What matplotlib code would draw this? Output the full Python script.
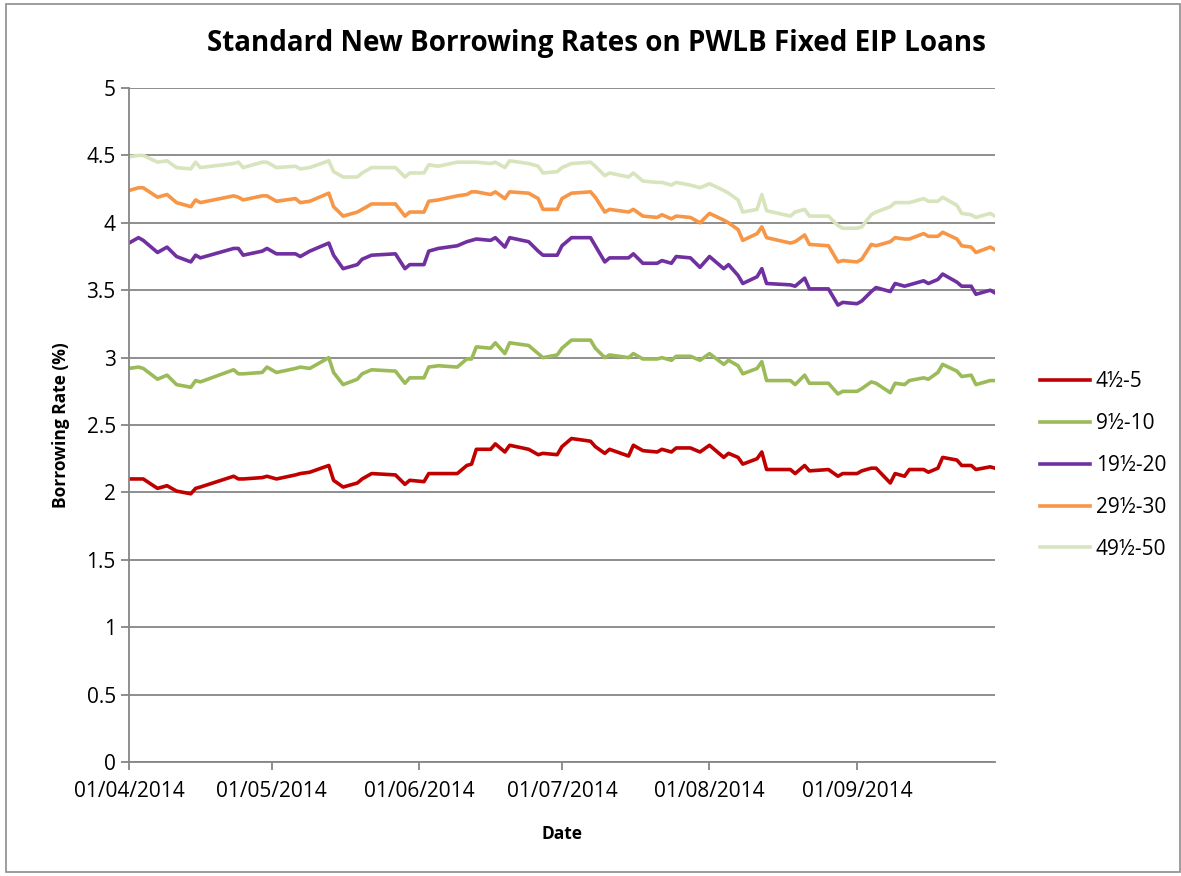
import matplotlib
matplotlib.use("Agg")
import matplotlib.pyplot as plt
import matplotlib.dates as mdates
import pandas as pd
from matplotlib.patches import Rectangle

# dates (dd/mm/2014) and rates
dates = ["01/04", "03/04", "04/04", "07/04", "09/04", "11/04", "14/04", "15/04", "16/04",
         "23/04", "24/04", "25/04", "29/04", "30/04", "02/05", "06/05", "07/05", "09/05",
         "13/05", "14/05", "16/05", "19/05", "20/05", "22/05", "27/05", "29/05", "30/05",
         "02/06", "03/06", "05/06", "09/06", "11/06", "12/06", "13/06", "16/06", "17/06",
         "19/06", "20/06", "24/06", "26/06", "27/06", "30/06", "01/07", "03/07", "07/07",
         "08/07", "10/07", "11/07", "15/07", "16/07", "18/07", "21/07", "22/07", "24/07",
         "25/07", "28/07", "30/07", "01/08", "04/08", "05/08", "07/08", "08/08", "11/08",
         "12/08", "13/08", "18/08", "19/08", "21/08", "22/08", "26/08", "28/08", "29/08",
         "01/09", "02/09", "04/09", "05/09", "08/09", "09/09", "11/09", "12/09", "15/09",
         "16/09", "18/09", "19/09", "22/09", "23/09", "25/09", "26/09", "29/09", "30/09"]

rate_5 = [2.10, 2.10, 2.10, 2.03, 2.05, 2.01, 1.99, 2.03, 2.04,
          2.12, 2.10, 2.10, 2.11, 2.12, 2.10, 2.13, 2.14, 2.15,
          2.20, 2.09, 2.04, 2.07, 2.10, 2.14, 2.13, 2.06, 2.09,
          2.08, 2.14, 2.14, 2.14, 2.20, 2.21, 2.32, 2.32, 2.36,
          2.30, 2.35, 2.32, 2.28, 2.29, 2.28, 2.34, 2.40, 2.38,
          2.34, 2.29, 2.32, 2.27, 2.35, 2.31, 2.30, 2.32, 2.30,
          2.33, 2.33, 2.30, 2.35, 2.26, 2.29, 2.26, 2.21, 2.25,
          2.30, 2.17, 2.17, 2.14, 2.20, 2.16, 2.17, 2.12, 2.14,
          2.14, 2.16, 2.18, 2.18, 2.07, 2.14, 2.12, 2.17, 2.17,
          2.15, 2.18, 2.26, 2.24, 2.20, 2.20, 2.17, 2.19, 2.18]

rate_10 = [2.92, 2.93, 2.92, 2.84, 2.87, 2.80, 2.78, 2.83, 2.82,
           2.91, 2.88, 2.88, 2.89, 2.93, 2.89, 2.92, 2.93, 2.92,
           3.00, 2.89, 2.80, 2.84, 2.88, 2.91, 2.90, 2.81, 2.85,
           2.85, 2.93, 2.94, 2.93, 2.99, 2.99, 3.08, 3.07, 3.11,
           3.03, 3.11, 3.09, 3.03, 3.00, 3.02, 3.07, 3.13, 3.13,
           3.07, 3.00, 3.02, 3.00, 3.03, 2.99, 2.99, 3.00, 2.98,
           3.01, 3.01, 2.98, 3.03, 2.95, 2.98, 2.94, 2.88, 2.92,
           2.97, 2.83, 2.83, 2.80, 2.87, 2.81, 2.81, 2.73, 2.75,
           2.75, 2.77, 2.82, 2.81, 2.74, 2.81, 2.80, 2.83, 2.85,
           2.84, 2.89, 2.95, 2.90, 2.86, 2.87, 2.80, 2.83, 2.83]

rate_20 = [3.85, 3.89, 3.87, 3.78, 3.82, 3.75, 3.71, 3.76, 3.74,
           3.81, 3.81, 3.76, 3.79, 3.81, 3.77, 3.77, 3.75, 3.79,
           3.85, 3.76, 3.66, 3.69, 3.73, 3.76, 3.77, 3.66, 3.69,
           3.69, 3.79, 3.81, 3.83, 3.86, 3.87, 3.88, 3.87, 3.89,
           3.82, 3.89, 3.86, 3.79, 3.76, 3.76, 3.83, 3.89, 3.89,
           3.83, 3.71, 3.74, 3.74, 3.77, 3.70, 3.70, 3.72, 3.70,
           3.75, 3.74, 3.67, 3.75, 3.66, 3.69, 3.61, 3.55, 3.60,
           3.66, 3.55, 3.54, 3.53, 3.59, 3.51, 3.51, 3.39, 3.41,
           3.40, 3.42, 3.49, 3.52, 3.49, 3.55, 3.53, 3.54, 3.57,
           3.55, 3.58, 3.62, 3.56, 3.53, 3.53, 3.47, 3.50, 3.48]

rate_30 = [4.24, 4.26, 4.26, 4.19, 4.21, 4.15, 4.12, 4.17, 4.15,
           4.20, 4.19, 4.17, 4.20, 4.20, 4.16, 4.18, 4.15, 4.16,
           4.22, 4.12, 4.05, 4.08, 4.10, 4.14, 4.14, 4.05, 4.08,
           4.08, 4.16, 4.17, 4.20, 4.21, 4.23, 4.23, 4.21, 4.23,
           4.18, 4.23, 4.22, 4.18, 4.10, 4.10, 4.18, 4.22, 4.23,
           4.19, 4.08, 4.10, 4.08, 4.10, 4.05, 4.04, 4.06, 4.03,
           4.05, 4.04, 4.00, 4.07, 4.02, 4.00, 3.95, 3.87, 3.92,
           3.97, 3.89, 3.85, 3.86, 3.91, 3.84, 3.83, 3.71, 3.72,
           3.71, 3.73, 3.84, 3.83, 3.86, 3.89, 3.88, 3.88, 3.92,
           3.90, 3.90, 3.93, 3.88, 3.83, 3.82, 3.78, 3.82, 3.80]

rate_50 = [4.49, 4.50, 4.50, 4.45, 4.46, 4.41, 4.40, 4.45, 4.41,
           4.44, 4.45, 4.41, 4.45, 4.45, 4.41, 4.42, 4.40, 4.41,
           4.46, 4.38, 4.34, 4.34, 4.37, 4.41, 4.41, 4.34, 4.37,
           4.37, 4.43, 4.42, 4.45, 4.45, 4.45, 4.45, 4.44, 4.45,
           4.41, 4.46, 4.44, 4.42, 4.37, 4.38, 4.41, 4.44, 4.45,
           4.42, 4.35, 4.37, 4.34, 4.37, 4.31, 4.30, 4.30, 4.28,
           4.30, 4.28, 4.26, 4.29, 4.24, 4.22, 4.17, 4.08, 4.10,
           4.21, 4.09, 4.05, 4.08, 4.10, 4.05, 4.05, 3.98, 3.96,
           3.96, 3.97, 4.06, 4.08, 4.12, 4.15, 4.15, 4.15, 4.18,
           4.16, 4.16, 4.19, 4.13, 4.07, 4.06, 4.04, 4.07, 4.05]

series_names = ["4½-5", "9½-10", "19½-20", "29½-30", "49½-50"]
colors = ["#C00000", "#9BBB59", "#7030A0", "#F79646", "#D7E4BD"]

x = pd.to_datetime([d + "/2014" for d in dates], format="%d/%m/%Y")

plt.rcParams["font.family"] = ["Open Sans", "DejaVu Sans"]

fig = plt.figure(figsize=(11.81, 8.76), dpi=100)
fig.patches.append(Rectangle((0.005, 0.004), 0.994, 0.992, transform=fig.transFigure,
                             fill=False, edgecolor="#8c8c8c", linewidth=1.2))
ax = fig.add_axes([0.1092, 0.1301, 0.7333, 0.7694])

for vals, name, c in zip([rate_5, rate_10, rate_20, rate_30, rate_50], series_names, colors):
    ax.plot(x, vals, color=c, linewidth=2.6, label=name)

ax.set_ylim(0, 5)
ax.set_yticks([0, 0.5, 1, 1.5, 2, 2.5, 3, 3.5, 4, 4.5, 5])
ax.set_yticklabels(["0", "0.5", "1", "1.5", "2", "2.5", "3", "3.5", "4", "4.5", "5"])
ax.set_xlim(pd.Timestamp("2014-04-01"), pd.Timestamp("2014-09-30"))
ax.xaxis.set_major_locator(mdates.MonthLocator())
ax.xaxis.set_major_formatter(mdates.DateFormatter("%d/%m/%Y"))
ax.grid(axis="y", color="#868686", linewidth=1.3)
ax.set_axisbelow(True)
for s in ["top", "right"]:
    ax.spines[s].set_visible(False)
for s in ["left", "bottom"]:
    ax.spines[s].set_color("#868686")
    ax.spines[s].set_linewidth(1.3)
ax.tick_params(axis="both", colors="#868686", labelcolor="black", labelsize=15,
               length=6, width=1.3)
ax.tick_params(axis="x", pad=8)

ax.set_xlabel("Date", fontsize=12.5, fontweight="bold", labelpad=16)
ax.set_ylabel("Borrowing Rate (%)", fontsize=12.5, fontweight="bold", labelpad=12)
fig.text(0.505, 0.95, "Standard New Borrowing Rates on PWLB Fixed EIP Loans",
         ha="center", va="center", fontsize=20, fontweight="bold")

ax.legend(loc="center left", bbox_to_anchor=(1.03, 0.44), frameon=False, fontsize=15,
          handlelength=2.4, labelspacing=1.0, handletextpad=0.3)

fig.savefig("out.png", dpi=100)
